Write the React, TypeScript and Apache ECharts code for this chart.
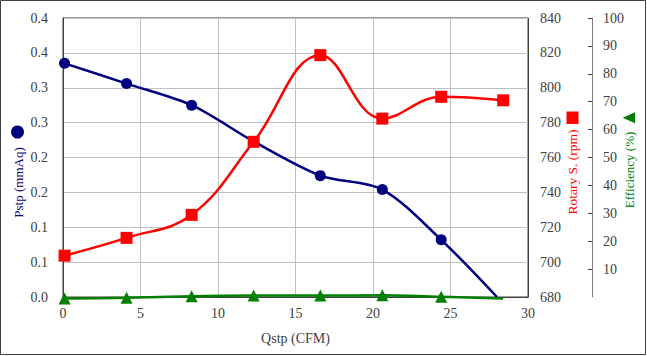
import React, { useEffect, useRef } from "react";
import * as echarts from "echarts";

const FONT = "Liberation Serif";

const xPstp = [0.1, 4.1, 8.3, 12.3, 16.6, 20.6, 24.4, 28.0];
const pstp = [0.335, 0.306, 0.275, 0.223, 0.174, 0.154, 0.082, 0];
const xRpm = [0.1, 4.1, 8.3, 12.3, 16.6, 20.6, 24.4, 28.4];
const rpm = [703.7, 713.9, 727.1, 769.0, 818.7, 782.3, 794.8, 792.8];
const xEff = [0.1, 4.1, 8.3, 12.3, 16.6, 20.6, 24.4, 28.4];
const eff = [-0.5, -0.3, 0.3, 0.5, 0.5, 0.6, 0.1, -0.5];
const pstpTickLabels = ["0.0", "0.1", "0.1", "0.2", "0.2", "0.3", "0.3", "0.4", "0.4"];

const GRID = "#c0c0c0";
const DARK = "#404040";

const richLabel = {
  t: { fontSize: 14, fontFamily: FONT, color: DARK, fontWeight: "normal" },
};
const wrap = (s: string) => `{t|${s}}`;

export default function App() {
  const ref = useRef<HTMLDivElement>(null);
  useEffect(() => {
    const chart = echarts.init(ref.current!, null, { renderer: "svg" });
    const labelStyle = { fontSize: 14, fontFamily: FONT, color: DARK, rich: richLabel };
    chart.setOption({
      animation: false,
      backgroundColor: "#fff",
      textStyle: { fontFamily: FONT },
      grid: {
        left: 63,
        right: 119,
        top: 18,
        bottom: 59,
        show: true,
        borderColor: DARK,
        borderWidth: 1,
        containLabel: false,
        outerBoundsMode: "none",
      },
      xAxis: {
        type: "value",
        min: 0,
        max: 30,
        interval: 5,
        name: "Qstp (CFM)",
        nameLocation: "middle",
        nameGap: 34,
        nameTextStyle: { fontSize: 14, fontFamily: FONT, color: DARK },
        axisLine: { show: true, lineStyle: { color: DARK } },
        axisTick: { show: false },
        axisLabel: { ...labelStyle, margin: 9, formatter: (v: number) => wrap(String(v)) },
        splitLine: { show: true, lineStyle: { color: GRID, width: 1 } },
      },
      yAxis: [
        {
          type: "value",
          position: "left",
          min: 0,
          max: 0.4,
          interval: 0.05,
          axisLine: { show: true, lineStyle: { color: DARK } },
          axisTick: { show: false },
          axisLabel: {
            ...labelStyle,
            margin: 15,
            formatter: (v: number) => wrap(pstpTickLabels[Math.round(v / 0.05)] ?? ""),
          },
          splitLine: { show: true, lineStyle: { color: GRID, width: 1 } },
        },
        {
          type: "value",
          position: "right",
          min: 680,
          max: 840,
          interval: 20,
          axisLine: { show: true, lineStyle: { color: DARK } },
          axisTick: { show: false },
          axisLabel: { ...labelStyle, margin: 12, formatter: (v: number) => wrap(String(v)) },
          splitLine: { show: false },
        },
        {
          type: "value",
          position: "right",
          offset: 64,
          min: 0,
          max: 100,
          interval: 10,
          axisLine: { show: true, lineStyle: { color: "#808080" } },
          axisTick: { show: true, inside: true, length: 4, lineStyle: { color: DARK } },
          axisLabel: {
            ...labelStyle,
            margin: 11,
            showMinLabel: false,
            formatter: (v: number) => wrap(String(v)),
          },
          splitLine: { show: false },
        },
      ],
      series: [
        {
          type: "line",
          yAxisIndex: 0,
          smooth: 0.3,
          clip: false,
          symbol: "circle",
          symbolSize: 11,
          lineStyle: { color: "#000080", width: 2.5 },
          itemStyle: { color: "#000080" },
          data: xPstp.map((x, i) =>
            i === xPstp.length - 1 ? { value: [x, pstp[i]], symbol: "none" } : [x, pstp[i]]
          ),
        },
        {
          type: "line",
          yAxisIndex: 1,
          smooth: 0.4,
          clip: false,
          symbol: "rect",
          symbolSize: 12,
          lineStyle: { color: "#ff0000", width: 2.5 },
          itemStyle: { color: "#ff0000" },
          data: xRpm.map((x, i) => [x, rpm[i]]),
        },
        {
          type: "line",
          yAxisIndex: 2,
          smooth: 0.3,
          clip: false,
          symbol: "triangle",
          symbolSize: 12,
          lineStyle: { color: "#008000", width: 2.5 },
          itemStyle: { color: "#008000" },
          data: xEff.map((x, i) =>
            i === xEff.length - 1 ? { value: [x, eff[i]], symbol: "none" } : [x, eff[i]]
          ),
        },
      ],
      graphic: [
        {
          type: "rect",
          shape: { x: 0.5, y: 0.5, width: 645, height: 354 },
          style: { fill: "none", stroke: DARK, lineWidth: 1 },
          silent: true,
        },
        {
          type: "text",
          x: 18,
          y: 182.5,
          rotation: Math.PI / 2,
          style: {
            text: "Pstp (mmAq)",
            fill: "#000080",
            fontSize: 13,
            fontFamily: FONT,
            align: "center",
            verticalAlign: "middle",
          },
        },
        { type: "circle", shape: { cx: 17.5, cy: 132, r: 6.5 }, style: { fill: "#000080" } },
        {
          type: "text",
          x: 572,
          y: 172,
          rotation: Math.PI / 2,
          style: {
            text: "Rotary S. (rpm)",
            fill: "#ff0000",
            fontSize: 13.5,
            fontFamily: FONT,
            align: "center",
            verticalAlign: "middle",
          },
        },
        {
          type: "rect",
          shape: { x: 566.5, y: 111.5, width: 12, height: 12.5 },
          style: { fill: "#ff0000" },
        },
        {
          type: "text",
          x: 629.5,
          y: 170,
          rotation: Math.PI / 2,
          style: {
            text: "Efficiency (%)",
            fill: "#008000",
            fontSize: 13,
            fontFamily: FONT,
            align: "center",
            verticalAlign: "middle",
          },
        },
        {
          type: "polygon",
          shape: { points: [[622.7, 117.8], [635, 112.3], [635, 123.3]] },
          style: { fill: "#008000" },
        },
      ],
    });
    return () => chart.dispose();
  }, []);
  return (
    <div
      ref={ref}
      style={{ position: "fixed", left: 0, top: 0, width: 647, height: 356, background: "#fff" }}
    />
  );
}
